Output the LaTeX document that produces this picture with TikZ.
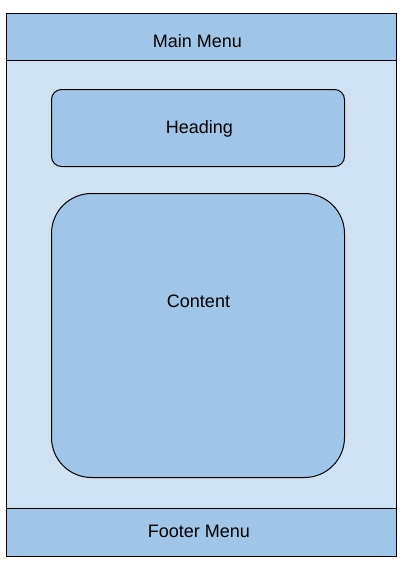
\documentclass[tikz,border=0pt]{standalone}
\usepackage{fontspec}
\setmainfont{Liberation Sans}
\definecolor{menublue}{HTML}{9FC5E8}
\definecolor{pageblue}{HTML}{CFE2F3}
\begin{document}
\begin{tikzpicture}[x=1pt, y=-1pt,
    box/.style={draw=black, line width=1pt, fill=menublue, inner sep=0pt, anchor=north west},
    caption/.style={anchor=base, font=\fontsize{18}{20}\selectfont}]
  \def\pagew{390}
  \def\innerw{293}

  \useasboundingbox (0,0) rectangle (402,566);

  % page and the two menus
  \node[box, fill=pageblue, minimum width=\pagew pt, minimum height=543pt] (page) at (6,13) {};
  \node[box, minimum width=\pagew pt, minimum height=47pt] (mainmenu) at (6,13) {};
  \node[box, minimum width=\pagew pt, minimum height=48pt] (footer) at (6,508) {};

  % heading and content blocks
  \node[box, rounded corners=10pt, minimum width=\innerw pt, minimum height=77pt] (heading) at (51,89) {};
  \node[box, rounded corners=40pt, minimum width=\innerw pt, minimum height=284pt] (content) at (51,193) {};

  \node[caption] (maintext) at (197.5,47.7) {Main Menu};
  \node[caption] (headtext) at (199.5,133.3) {Heading};
  \node[caption] (conttext) at (198.5,307) {Content};
  \node[caption] (foottext) at (198.8,537.7) {Footer Menu};
\end{tikzpicture}
\end{document}
